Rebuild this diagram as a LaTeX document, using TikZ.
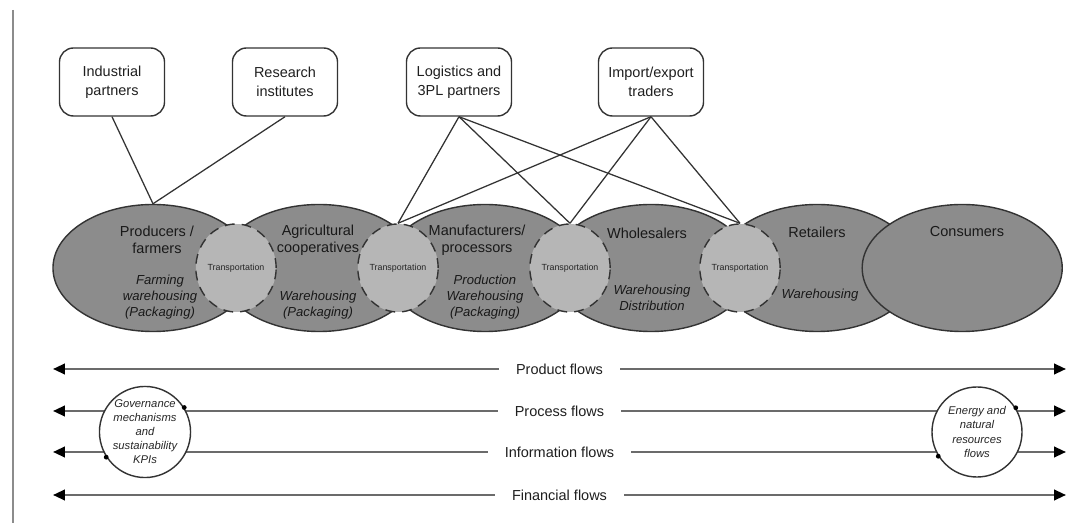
\documentclass[tikz,border=0pt]{standalone}
\usepackage{fontspec}
\setmainfont{Liberation Sans}
\usetikzlibrary{shapes.geometric,arrows.meta,positioning}
\definecolor{stagegray}{HTML}{8C8C8C}
\definecolor{transgray}{HTML}{B6B6B6}
\definecolor{edgegray}{HTML}{333333}

\begin{document}
\begin{tikzpicture}[x=0.025cm,y=-0.025cm]
  \tikzstyle{actor} = [rectangle, draw=edgegray, line width=1pt, rounded corners=0.35cm,
                       minimum width=2.625cm, minimum height=1.7cm, align=center,
                       font=\fontsize{10.3}{13.5}\selectfont, text=black!88]
  \tikzstyle{stage} = [ellipse, draw=edgegray, line width=1pt, fill=stagegray,
                       minimum width=5cm, minimum height=3.175cm, inner sep=0pt, node distance=4.15cm]
  \tikzstyle{transport} = [ellipse, draw=edgegray, dash pattern=on 7pt off 5pt, line width=1pt,
                           fill=transgray, minimum width=1.7cm, minimum height=2.2cm, inner sep=0pt,
                           font=\fontsize{6.3}{7}\selectfont, text=black!85]
  \tikzstyle{stagename} = [align=center, font=\fontsize{10.3}{12}\selectfont, text=black!90]
  \tikzstyle{stagerole} = [align=center, font=\fontsize{9.3}{11.4}\selectfont\itshape, text=black!90]
  \tikzstyle{flow} = [{Triangle[length=8.5pt,width=7.5pt,color=black]}-{Triangle[length=8.5pt,width=7.5pt,color=black]},
                      draw=black!58, line width=1.6pt]
  \tikzstyle{flowlabel} = [fill=white, inner xsep=0.42cm, font=\fontsize{10.3}{12}\selectfont, text=black!88]
  \tikzstyle{resource} = [circle, draw=edgegray, line width=1pt, fill=white, minimum size=2.25cm,
                          inner sep=0pt, align=center, font=\fontsize{8}{10}\selectfont\itshape, text=black!85]
  \tikzstyle{link} = [draw=edgegray, line width=0.9pt]
\useasboundingbox (0,0) rectangle (1066,523);
\draw[line width=2pt, black!45] (13,10) -- (13,523);
% partners
\node[actor] (ind) at (112,82) {Industrial\\partners};
\node[actor] (res) at (285,82) {Research\\institutes};
\node[actor] (logi) at (459,82) {Logistics and\\3PL partners};
\node[actor] (trad) at (651,82) {Import/export\\traders};
% chain
\node[stage] (prod) at (153,268) {};
\node[stage,right of=prod] (agri) {};
\node[stage,right of=agri] (manu) {};
\node[stage,right of=manu] (whol) {};
\node[stage,right of=whol] (reta) {};
\node[stage,right of=reta, xshift=-0.525cm] (cons) {};
\node[transport] (t1) at (236,268) {Transportation};
\node[transport] (t2) at (398,268) {Transportation};
\node[transport] (t3) at (570,268) {Transportation};
\node[transport] (t4) at (740,268) {Transportation};
\node[stagename] (prodname) at (157,240) {Producers /\\farmers};
\node[stagename] (agriname) at (318,240) {Agricultural\\cooperatives};
\node[stagename] (manuname) at (477,240) {Manufacturers/\\processors};
\node[stagename] (wholname) at (647,233) {Wholesalers};
\node[stagename] (retaname) at (817,232) {Retailers};
\node[stagename] (consname) at (967,232) {Consumers};
\node[stagerole] (prodrole) at (160,297) {Farming\\warehousing\\(Packaging)};
\node[stagerole] (agrirole) at (318,305) {Warehousing\\(Packaging)};
\node[stagerole] (manurole) at (485,297) {Production\\Warehousing\\(Packaging)};
\node[stagerole] (wholrole) at (652,298) {Warehousing\\Distribution};
\node[stagerole] (retarole) at (820,295) {Warehousing};
\draw[link] (ind.south) -- (prod.north);
\draw[link] (res.south) -- (prod.north);
\draw[link] (logi.south) -- (t2.north);
\draw[link] (logi.south) -- (t3.north);
\draw[link] (logi.south) -- (t4.north);
\draw[link] (trad.south) -- (t2.north);
\draw[link] (trad.south) -- (t3.north);
\draw[link] (trad.south) -- (t4.north);
% flows
\coordinate (prodL) at (53,369); \coordinate (prodR) at (1066,369);
\coordinate (procL) at (53,411); \coordinate (procR) at (1066,411);
\coordinate (infoL) at (53,452); \coordinate (infoR) at (1066,452);
\coordinate (finL) at (53,495); \coordinate (finR) at (1066,495);
\draw[flow] (prodL) -- node[flowlabel]{Product flows} (prodR);
\draw[flow] (procL) -- node[flowlabel]{Process flows} (procR);
\draw[flow] (infoL) -- node[flowlabel]{Information flows} (infoR);
\draw[flow] (finL) -- node[flowlabel]{Financial flows} (finR);
\node[resource] (gov) at (145,432) {Governance\\mechanisms\\and\\sustainability\\KPIs};
\node[resource] (energy) at (977,432) {Energy and\\natural\\resources\\flows};
\fill[black] (gov.32) circle[radius=1.7pt] (gov.213) circle[radius=1.7pt];
\fill[black] (energy.32) circle[radius=1.7pt] (energy.212) circle[radius=1.7pt];
\end{tikzpicture}
\end{document}
